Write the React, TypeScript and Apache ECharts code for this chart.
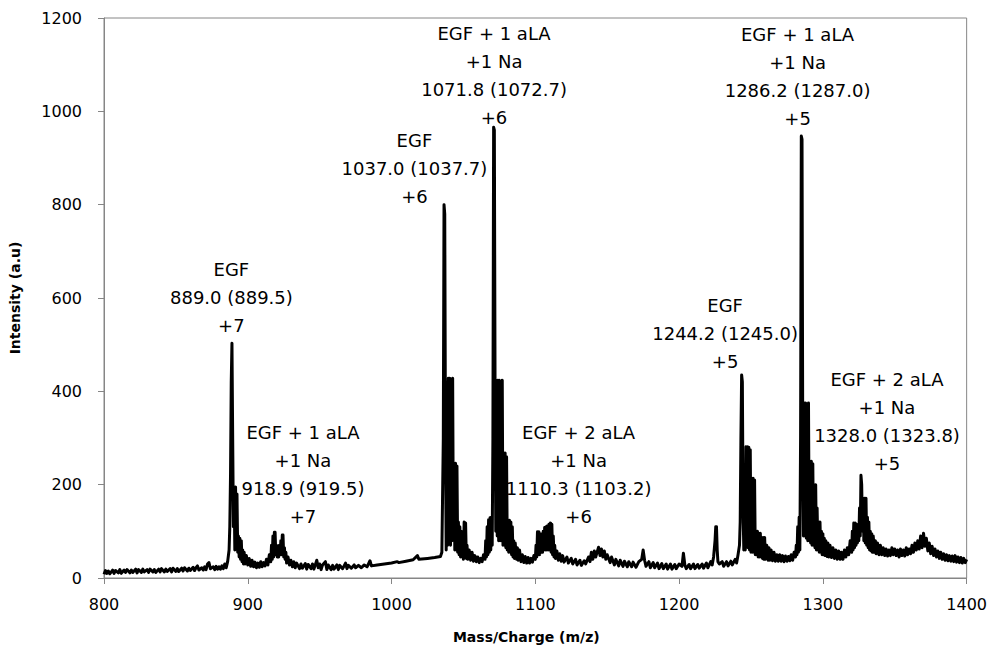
import React, { useEffect, useRef } from "react";
import * as echarts from "echarts";

// m/z vs intensity (a.u)
const spectrumLow: [number, number][] = [
  [800, 8], [801, 16], [802, 10], [803, 15], [804, 9], [806, 17], [807, 10], [808, 16], [810, 11], [811, 18],
  [812, 10], [814, 17], [815, 12], [816, 18], [818, 11], [819, 17], [820, 12], [822, 19], [823, 11], [824, 18],
  [826, 12], [827, 19], [828, 13], [830, 18], [831, 12], [832, 19], [834, 13], [835, 18], [836, 12], [838, 19],
  [839, 13], [840, 20], [842, 13], [843, 19], [844, 14], [846, 20], [847, 13], [848, 21], [850, 14], [851, 20],
  [852, 14], [854, 21], [855, 15], [856, 22], [858, 15], [859, 21], [860, 16], [862, 23], [863, 16], [864, 22],
  [865, 26], [866, 17], [868, 22], [869, 17], [870, 24], [871, 18], [872, 30], [873, 33], [874, 20], [876, 24],
  [877, 18], [878, 25], [879, 19], [880, 24], [881, 19], [882, 26], [883, 20], [884, 30], [885, 22], [886, 35],
  [887, 60], [887.5, 110], [888, 220], [888.5, 420], [889, 503], [889.5, 300], [890, 110], [890.5, 195], [891, 60], [891.5, 195],
  [892, 65], [892.5, 180], [893, 55], [893.5, 90], [894, 45], [894.5, 85], [895, 40], [895.5, 80], [896, 35], [896.5, 60],
  [897, 30], [897.5, 55], [898, 30], [899, 48], [900, 28], [901, 42], [902, 25], [903, 38], [904, 24], [905, 34],
  [906, 22], [907, 32], [908, 23], [909, 35], [910, 24], [911, 33], [912, 26], [913, 40], [914, 28], [915, 50],
  [916, 35], [916.5, 70], [917, 40], [917.5, 90], [918, 45], [918.5, 98], [919, 98], [919.5, 50], [920, 70], [920.5, 45],
  [921, 60], [921.5, 45], [922, 70], [922.5, 50], [923, 80], [923.5, 50], [924, 92], [924.5, 92], [925, 45], [925.5, 65],
  [926, 40], [926.5, 55], [927, 32], [928, 45], [929, 28], [930, 38], [931, 24], [932, 35], [933, 22], [934, 32],
  [936, 20], [937, 30], [938, 21], [940, 31], [941, 19], [942, 29], [944, 20], [945, 30], [946, 19], [948, 38],
  [949, 22], [950, 30], [951, 18], [952, 28], [954, 35], [955, 18], [956, 28], [958, 18], [959, 27], [960, 19],
  [962, 28], [963, 18], [964, 27], [966, 20], [968, 32], [969, 20], [970, 27], [972, 21], [974, 28], [975, 22],
  [977, 27], [979, 22], [981, 28], [983, 24], [985, 37], [986, 26], [990, 28], [995, 30],
];

const spectrumMid: [number, number][] = [
  [1000, 32], [1004, 35], [1005, 33], [1010, 36], [1015, 39], [1018, 48], [1019, 40], [1025, 42], [1030, 44], [1034, 46],
  [1035, 55], [1036, 300], [1036.5, 800], [1037, 780], [1037.5, 300], [1038, 60], [1038.5, 420], [1039, 70], [1039.5, 428], [1040, 80],
  [1040.5, 428], [1041, 70], [1041.5, 425], [1042, 80], [1042.5, 428], [1043, 90], [1043.5, 246], [1044, 60], [1044.5, 246], [1045, 60],
  [1045.5, 240], [1046, 55], [1046.5, 120], [1047, 50], [1047.5, 110], [1048, 45], [1048.5, 100], [1049, 45], [1049.5, 90], [1050, 40],
  [1050.5, 120], [1051, 45], [1051.5, 118], [1052, 42], [1052.5, 70], [1053, 40], [1054, 60], [1055, 38], [1056, 55], [1057, 36],
  [1058, 48], [1059, 35], [1060, 45], [1061, 33], [1062, 42], [1063, 35], [1064, 50], [1065, 40], [1065.5, 80], [1066, 45],
  [1066.5, 110], [1067, 50], [1067.5, 125], [1068, 55], [1068.5, 129], [1069, 60], [1069.5, 130], [1070, 70], [1070.5, 300], [1071, 966],
  [1071.5, 960], [1072, 400], [1072.5, 100], [1073, 424], [1073.5, 90], [1074, 424], [1074.5, 80], [1075, 424], [1075.5, 80], [1076, 420],
  [1076.5, 80], [1077, 424], [1077.5, 70], [1078, 268], [1078.5, 70], [1079, 268], [1079.5, 65], [1080, 260], [1080.5, 60], [1081, 124],
  [1081.5, 55], [1082, 124], [1082.5, 55], [1083, 120], [1083.5, 50], [1084, 110], [1084.5, 45], [1085, 80], [1085.5, 42], [1086, 75],
  [1087, 40], [1087.5, 65], [1088, 38], [1089, 60], [1090, 35], [1091, 50], [1092, 33], [1093, 46], [1094, 32], [1095, 44],
  [1096, 32], [1097, 42], [1098, 34], [1099, 48], [1100, 40], [1100.5, 70], [1101, 45], [1101.5, 99], [1102, 50], [1102.5, 99],
  [1103, 50], [1103.5, 95], [1104, 55], [1104.5, 95], [1105, 55], [1105.5, 100], [1106, 60], [1106.5, 108], [1107, 60], [1107.5, 110],
  [1108, 60], [1108.5, 112], [1109, 60], [1109.5, 115], [1110, 60], [1110.5, 118], [1111, 55], [1111.5, 115], [1112, 50], [1112.5, 90],
  [1113, 45], [1113.5, 70], [1114, 42], [1115, 58], [1116, 38], [1117, 52], [1118, 36], [1119, 48], [1120, 34], [1122, 45],
  [1123, 32], [1125, 42], [1126, 30], [1128, 40], [1129, 28], [1131, 38], [1132, 27], [1134, 37], [1135, 30], [1137, 45],
  [1138, 35], [1139, 55], [1140, 40], [1141, 58], [1142, 45], [1144, 66], [1145, 48], [1146, 62], [1147, 45], [1148, 58],
  [1149, 40], [1150, 50], [1152, 33], [1153, 45], [1155, 28], [1156, 40], [1158, 26], [1159, 38], [1161, 25], [1162, 36],
  [1164, 24], [1165, 35], [1167, 24], [1168, 34], [1170, 23], [1172, 35], [1174, 40], [1175, 60], [1176, 38], [1177, 25],
  [1179, 35], [1180, 22], [1182, 33], [1183, 22], [1185, 32], [1186, 20], [1188, 31], [1189, 20], [1191, 30], [1192, 19],
  [1194, 30], [1195, 19], [1197, 29], [1198, 20],
];

const spectrumHigh: [number, number][] = [
  [1200, 30], [1202, 25], [1203, 53], [1204, 28], [1205, 20], [1207, 29], [1208, 20], [1210, 30], [1211, 20], [1213, 29],
  [1214, 21], [1216, 30], [1217, 21], [1219, 32], [1220, 22], [1222, 35], [1223, 28], [1224, 45], [1225, 80], [1225.5, 110],
  [1226, 110], [1226.5, 60], [1227, 35], [1228, 30], [1230, 35], [1231, 25], [1233, 35], [1234, 26], [1236, 36], [1237, 28],
  [1239, 40], [1240, 32], [1241, 50], [1242, 70], [1242.5, 120], [1243, 300], [1243.5, 435], [1244, 420], [1244.5, 150], [1245, 60],
  [1245.5, 200], [1246, 60], [1246.5, 281], [1247, 70], [1247.5, 281], [1248, 65], [1248.5, 280], [1249, 60], [1249.5, 275], [1250, 55],
  [1250.5, 214], [1251, 55], [1251.5, 214], [1252, 55], [1252.5, 210], [1253, 50], [1253.5, 100], [1254, 50], [1254.5, 100], [1255, 45],
  [1255.5, 96], [1256, 45], [1256.5, 96], [1257, 45], [1257.5, 80], [1258, 42], [1258.5, 87], [1259, 40], [1259.5, 87], [1260, 40],
  [1261, 70], [1262, 38], [1262.5, 65], [1263, 38], [1264, 60], [1265, 37], [1266, 55], [1267, 36], [1268, 50], [1269, 36],
  [1270, 50], [1271, 36], [1272, 48], [1273, 35], [1274, 47], [1275, 36], [1276, 46], [1277, 37], [1278, 50], [1279, 38],
  [1280, 55], [1281, 45], [1281.5, 70], [1282, 50], [1282.5, 110], [1283, 55], [1283.5, 130], [1284, 60], [1284.5, 300], [1285, 947],
  [1285.5, 940], [1286, 300], [1286.5, 90], [1287, 375], [1287.5, 90], [1288, 375], [1288.5, 85], [1289, 370], [1289.5, 80], [1290, 375],
  [1290.5, 80], [1291, 250], [1291.5, 75], [1292, 250], [1292.5, 70], [1293, 245], [1293.5, 70], [1294, 200], [1294.5, 65], [1295, 200],
  [1295.5, 60], [1296, 150], [1296.5, 60], [1297, 120], [1297.5, 55], [1298, 120], [1298.5, 55], [1299, 100], [1299.5, 50], [1300, 95],
  [1300.5, 50], [1301, 85], [1301.5, 48], [1302, 80], [1303, 46], [1303.5, 75], [1304, 45], [1305, 70], [1306, 44], [1307, 65],
  [1308, 42], [1309, 60], [1310, 40], [1311, 58], [1312, 40], [1313, 55], [1314, 40], [1315, 60], [1316, 45], [1317, 65],
  [1318, 50], [1319, 80], [1320, 55], [1320.5, 100], [1321, 60], [1321.5, 118], [1322, 65], [1322.5, 118], [1323, 70], [1323.5, 115],
  [1324, 75], [1324.5, 110], [1325, 80], [1325.5, 150], [1326, 90], [1326.5, 220], [1327, 200], [1327.5, 100], [1328, 171], [1328.5, 80],
  [1329, 171], [1329.5, 75], [1330, 171], [1330.5, 70], [1331, 130], [1331.5, 65], [1332, 120], [1332.5, 60], [1333, 100], [1333.5, 58],
  [1334, 95], [1334.5, 55], [1335, 90], [1336, 55], [1336.5, 80], [1337, 52], [1338, 75], [1339, 50], [1340, 70], [1341, 50],
  [1342, 65], [1343, 48], [1344, 62], [1345, 47], [1346, 60], [1347, 48], [1348, 65], [1349, 50], [1350, 62], [1351, 48],
  [1352, 60], [1353, 45], [1354, 62], [1355, 48], [1356, 60], [1357, 47], [1358, 65], [1359, 50], [1360, 62], [1361, 52],
  [1362, 70], [1363, 55], [1364, 75], [1365, 60], [1366, 80], [1367, 62], [1368, 90], [1369, 65], [1370, 96], [1371, 68],
  [1372, 85], [1373, 58], [1374, 75], [1375, 52], [1376, 68], [1377, 48], [1378, 62], [1379, 45], [1380, 58], [1381, 42],
  [1382, 55], [1383, 40], [1384, 52], [1385, 38], [1386, 50], [1387, 37], [1388, 48], [1389, 36], [1390, 47], [1391, 35],
  [1392, 48], [1393, 34], [1394, 45], [1395, 33], [1396, 44], [1397, 32], [1398, 42], [1399, 33], [1400, 40],
];

// Peak annotations: text-block centre in data coordinates
const annotationMz = [888.6, 938.4, 1015.9, 1071.3, 1232.0, 1282.4, 1130.1, 1344.6];
const annotationIntensity = [602, 221, 877, 1077, 524, 1075, 222, 336];
const annotationText = [
  "EGF\n889.0 (889.5)\n+7",
  "EGF + 1 aLA\n+1 Na\n918.9 (919.5)\n+7",
  "EGF\n1037.0 (1037.7)\n+6",
  "EGF + 1 aLA\n+1 Na\n1071.8 (1072.7)\n+6",
  "EGF\n1244.2 (1245.0)\n+5",
  "EGF + 1 aLA\n+1 Na\n1286.2 (1287.0)\n+5",
  "EGF + 2 aLA\n+1 Na\n1110.3 (1103.2)\n+6",
  "EGF + 2 aLA\n+1 Na\n1328.0 (1323.8)\n+5",
];

const xMin = 800;
const xMax = 1400;
const xStep = 100;
const yMin = 0;
const yMax = 1200;
const yStep = 200;

const FONT = "DejaVu Sans";

export default function App() {
  const ref = useRef<HTMLDivElement>(null);

  useEffect(() => {
    if (!ref.current) return;
    const chart = echarts.init(ref.current, null, { renderer: "svg" });
    const spectrum = [...spectrumLow, ...spectrumMid, ...spectrumHigh];
    const axisGray = "#868686";

    chart.setOption({
      animation: false,
      backgroundColor: "#ffffff",
      grid: {
        left: 100,
        right: 23,
        top: 18,
        bottom: 65,
        show: true,
        borderColor: axisGray,
        borderWidth: 1,
        backgroundColor: "transparent",
      },
      xAxis: {
        type: "value",
        min: xMin,
        max: xMax,
        interval: xStep,
        name: "Mass/Charge (m/z)",
        nameLocation: "middle",
        nameGap: 52,
        nameTextStyle: {
          fontFamily: FONT,
          fontWeight: "bold",
          fontSize: 14,
          color: "#000",
          padding: [0, 18, 0, 0],
        },
        axisLine: { show: true, lineStyle: { color: axisGray, width: 1 } },
        axisTick: { show: true, length: 6, lineStyle: { color: axisGray } },
        axisLabel: {
          fontFamily: FONT,
          fontSize: 16,
          color: "#000",
          margin: 18,
          formatter: (v: number) => String(v),
        },
        splitLine: { show: false },
      },
      yAxis: {
        type: "value",
        min: yMin,
        max: yMax,
        interval: yStep,
        name: "Intensity (a.u)",
        nameLocation: "middle",
        nameGap: 82,
        nameRotate: 90,
        nameTextStyle: { fontFamily: FONT, fontWeight: "bold", fontSize: 14, color: "#000" },
        axisLine: { show: true, lineStyle: { color: axisGray, width: 1 } },
        axisTick: { show: true, length: 6, lineStyle: { color: axisGray } },
        axisLabel: {
          fontFamily: FONT,
          fontSize: 16,
          color: "#000",
          margin: 22,
          formatter: (v: number) => String(v),
        },
        splitLine: { show: false },
      },
      series: [
        {
          type: "line",
          data: spectrum,
          showSymbol: false,
          symbol: "none",
          lineStyle: { color: "#000", width: 3, join: "round" },
          itemStyle: { color: "#000" },
          z: 3,
          markPoint: {
            symbol: "circle",
            symbolSize: 0,
            silent: true,
            label: {
              show: true,
              position: "inside",
              fontFamily: FONT,
              fontSize: 18,
              lineHeight: 28,
              color: "#000",
              align: "center",
              verticalAlign: "middle",
              formatter: (p: any) => p.data.text,
            },
            data: annotationMz.map((mz, i) => ({
              coord: [mz, annotationIntensity[i]],
              text: annotationText[i],
              value: 0,
            })),
          },
        },
      ],
    });

    return () => chart.dispose();
  }, []);

  return (
    <div
      ref={ref}
      style={{ position: "fixed", left: 0, top: 0, width: 990, height: 649, background: "#fff" }}
    />
  );
}
